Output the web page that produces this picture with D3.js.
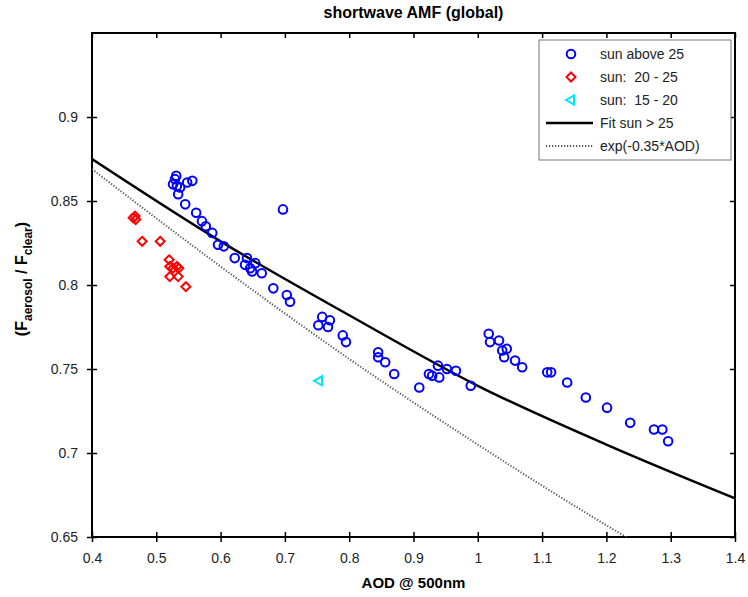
<!DOCTYPE html>
<meta charset="utf-8">
<style>
 body { margin: 0; background: #fff; }
 text { font-family: 'Liberation Sans', Arial, Helvetica, sans-serif; white-space: pre; }
 .axis path { display: none; }
 .axis line { stroke: #000; stroke-width: 1.5; }
 .axis text { font-size: 14px; fill: #222; }
</style>
<body>
<script src="https://cdn.jsdelivr.net/npm/d3@7"></script>
<script>

 // sun above 25
 var blueAod = [0.531, 0.529, 0.526, 0.532, 0.537, 0.548, 0.556, 0.534, 0.545, 0.562,
                0.571, 0.577, 0.587, 0.596, 0.605, 0.622, 0.641, 0.638, 0.646, 0.654,
                0.649, 0.664, 0.682, 0.697, 0.703, 0.708, 0.758, 0.770, 0.752, 0.767,
                0.790, 0.795, 0.845, 0.845, 0.856, 0.870, 0.909, 0.924, 0.929, 0.938,
                0.940, 0.952, 0.966, 0.989, 1.017, 1.019, 1.033, 1.038, 1.045, 1.041,
                1.058, 1.069, 1.108, 1.114, 1.139, 1.168, 1.201, 1.237, 1.274, 1.287, 1.296];
 var blueRatio = [0.865, 0.863, 0.860, 0.859, 0.858, 0.861, 0.862, 0.854, 0.848, 0.843,
                  0.838, 0.835, 0.831, 0.824, 0.823, 0.816, 0.816, 0.812, 0.810, 0.813,
                  0.808, 0.807, 0.798, 0.845, 0.794, 0.790, 0.781, 0.779, 0.776, 0.775,
                  0.770, 0.766, 0.760, 0.757, 0.754, 0.747, 0.739, 0.747, 0.746, 0.752,
                  0.745, 0.750, 0.749, 0.740, 0.771, 0.766, 0.767, 0.761, 0.762, 0.757,
                  0.755, 0.751, 0.748, 0.748, 0.742, 0.733, 0.727, 0.718, 0.714, 0.714, 0.707];

 // sun 20 - 25
 var redAod = [0.464, 0.467, 0.468, 0.478, 0.506, 0.520, 0.521, 0.526, 0.532, 0.535, 0.521, 0.534, 0.546];
 var redRatio = [0.840, 0.841, 0.839, 0.826, 0.826, 0.815, 0.811, 0.810, 0.811, 0.810, 0.805, 0.805, 0.799];

 // sun 15 - 20
 var cyanAod = [0.753];
 var cyanRatio = [0.743];

 // fit sun > 25
 var fitAod = [0.4, 0.6, 0.8, 1.0, 1.2, 1.4];
 var fitRatio = [0.875, 0.826, 0.782, 0.740, 0.705, 0.673];

 // exp(-0.35*AOD)
 var expAod = [0.4, 0.6, 0.8, 1.0, 1.2, 1.4];
 var expRatio = [0.869, 0.811, 0.756, 0.705, 0.657, 0.613];

 var xTicks = [0.4, 0.5, 0.6, 0.7, 0.8, 0.9, 1, 1.1, 1.2, 1.3, 1.4];
 var yTicks = [0.65, 0.7, 0.75, 0.8, 0.85, 0.9];

 var legendItems = ["sun above 25", "sun:  20 - 25", "sun:  15 - 20", "Fit sun > 25", "exp(-0.35*AOD)"];

 var margin = {top: 33, right: 13, bottom: 60, left: 92},
     width = 748 - margin.left - margin.right,
     height = 597 - margin.top - margin.bottom;

 var xScale = d3.scaleLinear().domain([0.4, 1.4]).range([0, width]);
 var yScale = d3.scaleLinear().domain([0.65, 0.95]).range([height, 0]);

 var svg = d3.select("body").append("svg")
             .attr("width", 748)
             .attr("height", 597)
             .append("g")
             .attr("transform", "translate(" + margin.left + "," + margin.top + ")");

 svg.append("clipPath")
    .attr("id", "clip")
    .append("rect")
    .attr("width", width)
    .attr("height", height);

 function crossTicks(g, horizontal) {
     g.selectAll(".tick line")
      .attr(horizontal ? "y1" : "x1", -5)
      .attr(horizontal ? "y2" : "x2", 5);
 }

 // bottom + top axes
 var gX = svg.append("g")
             .attr("class", "axis")
             .attr("transform", "translate(0," + height + ")")
             .call(d3.axisBottom(xScale).tickValues(xTicks).tickFormat(d3.format("")).tickPadding(10));
 crossTicks(gX, true);
 svg.append("g")
    .attr("class", "axis")
    .call(d3.axisTop(xScale).tickValues(xTicks).tickSize(-5).tickFormat(""));

 // left + right axes
 var gY = svg.append("g")
             .attr("class", "axis")
             .call(d3.axisLeft(yScale).tickValues(yTicks).tickFormat(d3.format("")).tickPadding(8));
 crossTicks(gY, false);
 svg.append("g")
    .attr("class", "axis")
    .attr("transform", "translate(" + width + ",0)")
    .call(d3.axisRight(yScale).tickValues(yTicks).tickSize(-5).tickFormat(""));

 // frame
 svg.append("rect")
    .attr("width", width)
    .attr("height", height)
    .attr("fill", "none")
    .attr("stroke", "#000")
    .attr("stroke-width", 2);

 var chart = svg.append("g").attr("clip-path", "url(#clip)");

 var line = d3.line()
              .x(function(d) { return xScale(d[0]); })
              .y(function(d) { return yScale(d[1]); })
              .curve(d3.curveMonotoneX);

 chart.append("path")
      .datum(d3.zip(expAod, expRatio))
      .attr("fill", "none")
      .attr("stroke", "#555")
      .attr("stroke-width", 2)
      .attr("stroke-dasharray", "1.2,1.8")
      .attr("d", line);

 chart.append("path")
      .datum(d3.zip(fitAod, fitRatio))
      .attr("fill", "none")
      .attr("stroke", "#000")
      .attr("stroke-width", 2.5)
      .attr("d", line);

 // markers
 var diamond = "M0,-4.5L4.5,0L0,4.5L-4.5,0Z";
 var triangle = "M-5,0L3,-4.5L3,4.5Z";

 chart.selectAll(".blue")
      .data(d3.zip(blueAod, blueRatio))
      .enter().append("circle")
      .attr("class", "blue")
      .attr("cx", function(d) { return xScale(d[0]); })
      .attr("cy", function(d) { return yScale(d[1]); })
      .attr("r", 4.3)
      .attr("fill", "none")
      .attr("stroke", "#0000ff")
      .attr("stroke-width", 2);

 chart.selectAll(".red")
      .data(d3.zip(redAod, redRatio))
      .enter().append("path")
      .attr("class", "red")
      .attr("transform", function(d) { return "translate(" + xScale(d[0]) + "," + yScale(d[1]) + ")"; })
      .attr("d", diamond)
      .attr("fill", "none")
      .attr("stroke", "#ff0000")
      .attr("stroke-width", 2);

 chart.selectAll(".cyan")
      .data(d3.zip(cyanAod, cyanRatio))
      .enter().append("path")
      .attr("class", "cyan")
      .attr("transform", function(d) { return "translate(" + xScale(d[0]) + "," + yScale(d[1]) + ")"; })
      .attr("d", triangle)
      .attr("fill", "none")
      .attr("stroke", "#00e5ff")
      .attr("stroke-width", 2);

 // title and axis labels
 svg.append("text")
    .attr("x", width / 2)
    .attr("y", -21)
    .attr("dy", "0.35em")
    .attr("text-anchor", "middle")
    .attr("font-size", "16px")
    .attr("font-weight", "bold")
    .text("shortwave AMF (global)");

 svg.append("text")
    .attr("x", width / 2)
    .attr("y", height + 51)
    .attr("text-anchor", "middle")
    .attr("font-size", "15px")
    .attr("font-weight", "bold")
    .text("AOD @ 500nm");

 var yLabel = svg.append("text")
                 .attr("transform", "translate(" + (-65) + "," + (height / 2 - 6) + ")rotate(-90)")
                 .attr("text-anchor", "middle")
                 .attr("font-size", "16px")
                 .attr("font-weight", "bold");
 yLabel.append("tspan").text("(F");
 yLabel.append("tspan").attr("font-size", "12px").attr("dy", 5).text("aerosol");
 yLabel.append("tspan").attr("dy", -5).text(" / F");
 yLabel.append("tspan").attr("font-size", "12px").attr("dy", 5).text("clear");
 yLabel.append("tspan").attr("dy", -5).text(")");

 // legend
 var lg = svg.append("g").attr("transform", "translate(" + (539 - margin.left) + "," + (40 - margin.top) + ")");
 lg.append("rect")
   .attr("width", 192)
   .attr("height", 120)
   .attr("fill", "#fff")
   .attr("stroke", "#777")
   .attr("stroke-width", 1);

 var rows = lg.selectAll(".row")
              .data(legendItems)
              .enter().append("g")
              .attr("class", "row")
              .attr("transform", function(d, i) { return "translate(0," + (14 + i * 23) + ")"; });

 rows.append("text")
     .attr("x", 61)
     .attr("y", 5)
     .attr("font-size", "14px")
     .attr("fill", "#222")
     .text(function(d) { return d; });

 rows.each(function(d, i) {
     var r = d3.select(this);
     if (i == 0) {
         r.append("circle").attr("cx", 32).attr("r", 4.3)
          .attr("fill", "none").attr("stroke", "#0000ff").attr("stroke-width", 2);
     } else if (i == 1) {
         r.append("path").attr("transform", "translate(32,0)").attr("d", diamond)
          .attr("fill", "none").attr("stroke", "#ff0000").attr("stroke-width", 2);
     } else if (i == 2) {
         r.append("path").attr("transform", "translate(32,0)").attr("d", triangle)
          .attr("fill", "none").attr("stroke", "#00e5ff").attr("stroke-width", 2);
     } else if (i == 3) {
         r.append("line").attr("x1", 7).attr("x2", 54)
          .attr("stroke", "#000").attr("stroke-width", 2.5);
     } else {
         r.append("line").attr("x1", 7).attr("x2", 54)
          .attr("stroke", "#555").attr("stroke-width", 2).attr("stroke-dasharray", "1.2,1.8");
     }
 });

</script>
</body>
